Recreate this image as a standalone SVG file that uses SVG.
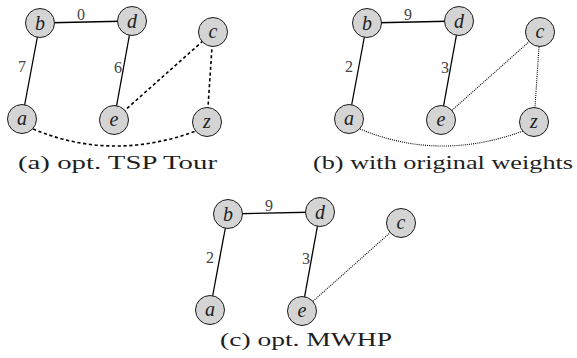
<svg xmlns="http://www.w3.org/2000/svg" width="577" height="358" viewBox="0 0 577 358" font-family="Liberation Serif, Times New Roman, serif">
<defs>
<style>
text{font-family:'Liberation Serif','Times New Roman',serif}
.nd{fill:#d4d4d4;stroke:#1a1a1a;stroke-width:1}
.lb{font-style:italic;font-size:20px;fill:#222;text-anchor:middle}
.wt{font-size:16px;fill:#444;text-anchor:middle}
.cap{font-size:18.5px;fill:#1e1e1e}
.so{stroke:#000;stroke-width:1.3;fill:none}
.da{stroke:#000;stroke-width:1.6;stroke-dasharray:3.2 2.6;fill:none}
.dt{stroke:#000;stroke-width:1.1;stroke-dasharray:1 1.1;fill:none}
</style>
</defs>
<rect width="577" height="358" fill="#fff"/>

<!-- Panel (a) -->
<g id="panel-a">
<g id="connectors-a">
<line class="so" x1="22" y1="119" x2="40" y2="23"/>
<line class="so" x1="40" y1="23" x2="132" y2="21"/>
<line class="so" x1="132" y1="21" x2="114" y2="120"/>
<line class="da" x1="114" y1="120" x2="213" y2="32"/>
<line class="da" x1="213" y1="32" x2="207" y2="122"/>
<path class="da" d="M33,129 Q112,162 196,131"/>
<text class="wt" x="81" y="20">0</text>
<text class="wt" x="22" y="72">7</text>
<text class="wt" x="118" y="73">6</text>
</g>
<g id="a-a"><circle class="nd" cx="22" cy="119" r="14.5"/><text class="lb" x="22" y="124.5">a</text></g>
<g id="a-b"><circle class="nd" cx="40" cy="23" r="14.5"/><text class="lb" x="40" y="30">b</text></g>
<g id="a-d"><circle class="nd" cx="132" cy="21" r="14.5"/><text class="lb" x="132" y="28">d</text></g>
<g id="a-e"><circle class="nd" cx="114" cy="120" r="14.5"/><text class="lb" x="114" y="125.5">e</text></g>
<g id="a-c"><circle class="nd" cx="213" cy="32" r="14.5"/><text class="lb" x="213" y="37.5">c</text></g>
<g id="a-z"><circle class="nd" cx="207" cy="122" r="14.5"/><text class="lb" x="207" y="127.5">z</text></g>
<text class="cap" x="18" y="169" textLength="199" lengthAdjust="spacingAndGlyphs">(a) opt.  TSP Tour</text>
</g>

<!-- Panel (b) -->
<g id="panel-b" transform="translate(327,0)">
<g id="connectors-b">
<line class="so" x1="22" y1="119" x2="40" y2="23"/>
<line class="so" x1="40" y1="23" x2="132" y2="21"/>
<line class="so" x1="132" y1="21" x2="114" y2="120"/>
<line class="dt" x1="114" y1="120" x2="213" y2="32"/>
<line class="dt" x1="213" y1="32" x2="207" y2="122"/>
<path class="dt" d="M33,129 Q112,162 196,131"/>
<text class="wt" x="81" y="20">9</text>
<text class="wt" x="22" y="72">2</text>
<text class="wt" x="118" y="73">3</text>
</g>
<g id="b-a"><circle class="nd" cx="22" cy="119" r="14.5"/><text class="lb" x="22" y="124.5">a</text></g>
<g id="b-b"><circle class="nd" cx="40" cy="23" r="14.5"/><text class="lb" x="40" y="30">b</text></g>
<g id="b-d"><circle class="nd" cx="132" cy="21" r="14.5"/><text class="lb" x="132" y="28">d</text></g>
<g id="b-e"><circle class="nd" cx="114" cy="120" r="14.5"/><text class="lb" x="114" y="125.5">e</text></g>
<g id="b-c"><circle class="nd" cx="213" cy="32" r="14.5"/><text class="lb" x="213" y="37.5">c</text></g>
<g id="b-z"><circle class="nd" cx="207" cy="122" r="14.5"/><text class="lb" x="207" y="127.5">z</text></g>
<text class="cap" x="-14" y="169" textLength="260" lengthAdjust="spacingAndGlyphs">(b) with original weights</text>
</g>

<!-- Panel (c) -->
<g id="panel-c" transform="translate(188,191)">
<g id="connectors-c">
<line class="so" x1="22" y1="119" x2="40" y2="23"/>
<line class="so" x1="40" y1="23" x2="132" y2="21"/>
<line class="so" x1="132" y1="21" x2="114" y2="120"/>
<line class="dt" x1="114" y1="120" x2="213" y2="32"/>
<text class="wt" x="81" y="20">9</text>
<text class="wt" x="22" y="72">2</text>
<text class="wt" x="118" y="73">3</text>
</g>
<g id="c-a"><circle class="nd" cx="22" cy="119" r="14.5"/><text class="lb" x="22" y="124.5">a</text></g>
<g id="c-b"><circle class="nd" cx="40" cy="23" r="14.5"/><text class="lb" x="40" y="30">b</text></g>
<g id="c-d"><circle class="nd" cx="132" cy="21" r="14.5"/><text class="lb" x="132" y="28">d</text></g>
<g id="c-e"><circle class="nd" cx="114" cy="120" r="14.5"/><text class="lb" x="114" y="125.5">e</text></g>
<g id="c-c"><circle class="nd" cx="213" cy="32" r="14.5"/><text class="lb" x="213" y="37.5">c</text></g>
<text class="cap" x="32" y="155" textLength="172" lengthAdjust="spacingAndGlyphs">(c) opt.  MWHP</text>
</g>
</svg>
